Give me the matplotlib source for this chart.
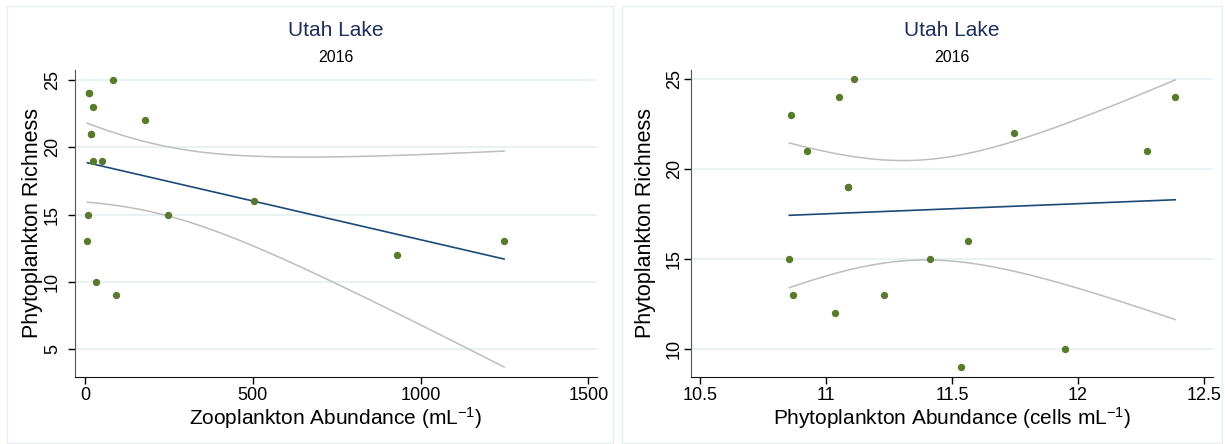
import numpy as np
import matplotlib
matplotlib.use("Agg")
import matplotlib.pyplot as plt
from matplotlib.patches import Rectangle

plt.rcParams['font.family'] = ['Liberation Sans', 'DejaVu Sans']
plt.rcParams['mathtext.fontset'] = 'custom'
plt.rcParams['mathtext.rm'] = 'Liberation Sans'
plt.rcParams['mathtext.it'] = 'Liberation Sans:italic'

# zooplankton panel (two hidden overlapping dots near x~15)
zoo_x = [83, 12, 13, 23, 180, 18, 19, 23, 52, 504, 9, 248, 7, 33, 93, 931, 1249]
zoo_y = [25, 24, 24, 23, 22, 21, 21, 19, 19, 16, 15, 15, 13, 10, 9, 12, 13]

# phytoplankton panel (the 19 dot hides a second one)
phy_x = [10.86, 11.11, 11.053, 10.924, 11.086, 11.088, 11.745, 12.386, 12.274,
         10.854, 11.413, 11.564, 10.869, 11.232, 11.034, 11.536, 11.949]
phy_y = [23, 25, 24, 21, 19, 19, 22, 24, 21, 15, 15, 16, 13, 13, 12, 9, 10]

title = "Utah Lake"
subtitle = "2016"
ylab = "Phytoplankton Richness"
xlab_zoo = "Zooplankton Abundance (mL$^{-1}$)"
xlab_phy = "Phytoplankton Abundance (cells mL$^{-1}$)"
zoo_ticks = [0, 500, 1000, 1500]
zoo_yticks = [5, 10, 15, 20, 25]
phy_ticks = [10.5, 11, 11.5, 12, 12.5]
phy_yticks = [10, 15, 20, 25]

t_crit = {14: 2.145, 15: 2.131}

W, H = 1225, 444
fig = plt.figure(figsize=(W / 100, H / 100), dpi=100)

green = '#577a2d'
navy = '#1b4a78'
ci_col = '#bdbdbd'
grid_col = '#e6eff1'


def px_axes(x0, x1, y0, y1):
    return fig.add_axes([x0 / W, 1 - y1 / H, (x1 - x0) / W, (y1 - y0) / H])


def lfitci(ax, x, y):
    x = np.asarray(x, float)
    y = np.asarray(y, float)
    n = len(x)
    b, a = np.polyfit(x, y, 1)
    res = y - (a + b * x)
    s = np.sqrt(np.sum(res ** 2) / (n - 2))
    sxx = np.sum((x - x.mean()) ** 2)
    xs = np.linspace(x.min(), x.max(), 200)
    fit = a + b * xs
    se = s * np.sqrt(1 / n + (xs - x.mean()) ** 2 / sxx)
    t = t_crit[n - 2]
    ax.plot(xs, fit + t * se, color=ci_col, lw=1.1, zorder=2)
    ax.plot(xs, fit - t * se, color=ci_col, lw=1.1, zorder=2)
    ax.plot(xs, fit, color=navy, lw=1.2, zorder=3)
    ax.scatter(x, y, s=28, color=green, zorder=4, linewidths=0)


def style(ax, xticks, yticks, xlab, ylpad):
    for sp in ['top', 'right']:
        ax.spines[sp].set_visible(False)
    ax.spines['left'].set_color('#555555')
    ax.spines['bottom'].set_color('#111111')
    ax.set_xticks(xticks)
    ax.set_yticks(yticks)
    ax.set_xticklabels([('%g' % v) for v in xticks])
    ax.tick_params(axis='both', length=5, width=1, labelsize=13)
    ax.tick_params(axis='x', pad=2)
    ax.tick_params(axis='y', pad=ylpad)
    for lab in ax.get_yticklabels():
        lab.set_rotation(90)
        lab.set_va('center')
    ax.grid(axis='y', color=grid_col, lw=1.2)
    ax.set_axisbelow(True)
    ax.set_xlabel(xlab, fontsize=15, va='top')
    ax.xaxis.set_label_coords(0.5, -(405 - 377) / 307)
    ax.set_ylabel(ylab, fontsize=15.5, va='center')


# left panel
fig.add_artist(Rectangle((7 / W, 1 - 443 / H), 606 / W, 437 / H,
                         transform=fig.transFigure, fill=False,
                         edgecolor='#e6eef0', lw=1))
ax1 = px_axes(75, 597, 70, 377)
lfitci(ax1, zoo_x, zoo_y)
ax1.set_xlim(-29.8, 1526)
ax1.set_ylim(2.93, 25.74)
style(ax1, zoo_ticks, zoo_yticks, xlab_zoo, 5)
ax1.yaxis.set_label_coords((33 - 75) / 522, 0.5)
fig.text(336 / W, 1 - 31 / H, title, ha='center', va='center',
         fontsize=15, color='#1e2f5c')
fig.text(336 / W, 1 - 57 / H, subtitle, ha='center', va='center',
         fontsize=11.5, color='black')

# right panel
fig.add_artist(Rectangle((622 / W, 1 - 443 / H), 600 / W, 437 / H,
                         transform=fig.transFigure, fill=False,
                         edgecolor='#e6eef0', lw=1))
ax2 = px_axes(691, 1213, 70, 377)
lfitci(ax2, phy_x, phy_y)
ax2.set_xlim(10.464, 12.536)
ax2.set_ylim(8.44, 25.5)
style(ax2, phy_ticks, phy_yticks, xlab_phy, 1)
ax2.yaxis.set_label_coords((645 - 691) / 522, 0.5)
fig.text(952 / W, 1 - 31 / H, title, ha='center', va='center',
         fontsize=15, color='#1e2f5c')
fig.text(952 / W, 1 - 57 / H, subtitle, ha='center', va='center',
         fontsize=11.5, color='black')

fig.savefig('out.png', dpi=100)
